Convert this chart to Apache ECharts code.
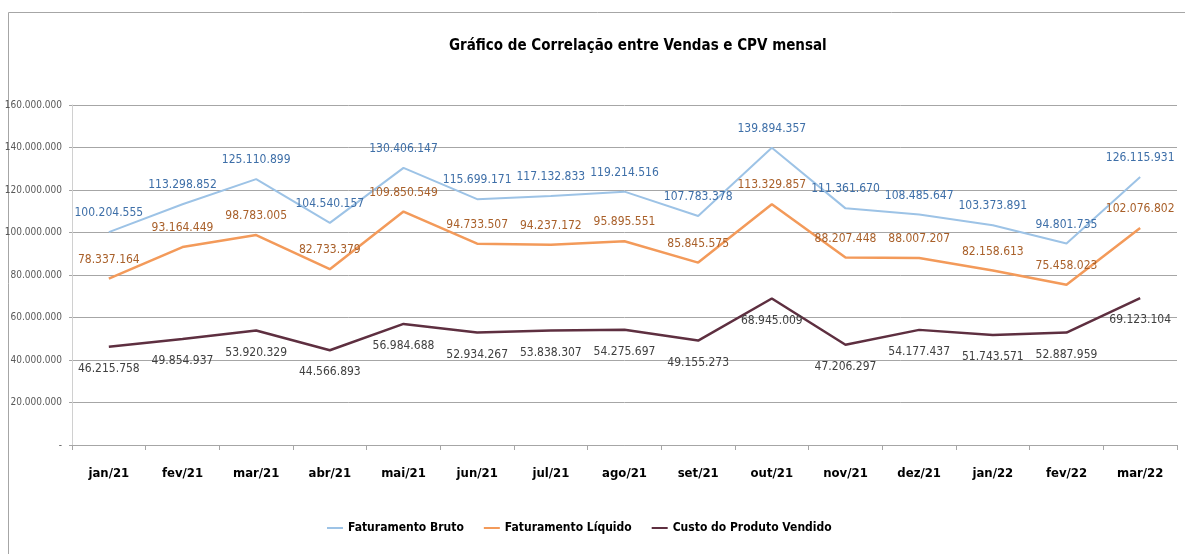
<!DOCTYPE html>
<html>
<head>
<meta charset="utf-8">
<script src="https://cdn.jsdelivr.net/npm/echarts@6/dist/echarts.min.js"></script>
<style>
  html, body { margin: 0; padding: 0; background: #fff; }
  #box { width: 1185px; height: 554px; }
</style>
</head>
<body>
<div id="box"></div>
<script>
// meses
const meses = ["jan/21", "fev/21", "mar/21", "abr/21", "mai/21", "jun/21", "jul/21", "ago/21",
  "set/21", "out/21", "nov/21", "dez/21", "jan/22", "fev/22", "mar/22"];

// faturamento bruto
const fatBruto = [100204555, 113298852, 125110899, 104540157, 130406147, 115699171, 117132833, 119214516,
  107783378, 139894357, 111361670, 108485647, 103373891, 94801735, 126115931];

// faturamento liquido
const fatLiquido = [78337164, 93164449, 98783005, 82733379, 109850549, 94733507, 94237172, 95895551,
  85845575, 113329857, 88207448, 88007207, 82158613, 75458023, 102076802];

// custo do produto vendido
const cpv = [46215758, 49854937, 53920329, 44566893, 56984688, 52934267, 53838307, 54275697,
  49155273, 68945009, 47206297, 54177437, 51743571, 52887959, 69123104];

const fonte = "'DejaVu Sans Condensed', 'Noto Sans', sans-serif";

// 1234567 -> 1.234.567
function ptBR(v) {
  if (v == 0) return "-";
  return String(v).replace(/\B(?=(\d{3})+(?!\d))/g, ".");
}

const myChart = echarts.init(document.getElementById("box"));

const option = {
  backgroundColor: "#fff",
  animation: false,
  textStyle: { fontFamily: fonte },
  // moldura do grafico
  graphic: [
    {
      type: "rect",
      shape: { x: 8.5, y: 12.5, width: 1300, height: 700 },
      style: { fill: "none", stroke: "#a6a6a6", lineWidth: 1 },
      silent: true,
    },
  ],
  title: {
    text: "Gráfico de Correlação entre Vendas e CPV mensal",
    left: 444,
    top: 34,
    textStyle: { fontFamily: fonte, fontSize: 15, fontWeight: "bold", color: "#000" },
  },
  legend: {
    bottom: 15,
    left: 322,
    icon: "rect",
    itemWidth: 16,
    itemHeight: 2,
    itemGap: 20,
    textStyle: { fontFamily: fonte, fontSize: 12, fontWeight: "bold", color: "#000" },
    data: ["Faturamento Bruto", "Faturamento Líquido", "Custo do Produto Vendido"],
  },
  grid: {
    left: 72,
    right: 8,
    top: 105,
    bottom: 109,
    outerBoundsMode: "none",
  },
  xAxis: {
    type: "category",
    data: meses,
    boundaryGap: true,
    axisLine: { lineStyle: { color: "#a6a6a6" } },
    axisTick: { show: true, length: 5, lineStyle: { color: "#a6a6a6" } },
    axisLabel: { margin: 22, fontFamily: fonte, fontSize: 13, fontWeight: "bold", color: "#000" },
  },
  yAxis: {
    type: "value",
    min: 0,
    max: 160000000,
    interval: 20000000,
    axisLine: { show: true, lineStyle: { color: "#d0d0d0" } },
    axisTick: { show: true, length: 3, lineStyle: { color: "#a6a6a6" } },
    axisLabel: { margin: 10, fontFamily: fonte, fontSize: 10, color: "#595959", formatter: ptBR },
    splitLine: { lineStyle: { color: "#a6a6a6" } },
  },
  series: [
    {
      name: "Faturamento Bruto",
      type: "line",
      data: fatBruto,
      symbol: "circle",
      symbolSize: 0,
      color: "#9dc3e6",
      lineStyle: { width: 2 },
      label: {
        show: true,
        position: "top",
        distance: 13,
        fontFamily: fonte,
        fontSize: 12,
        color: "#3e6fa8",
        formatter: (p) => ptBR(p.value),
      },
    },
    {
      name: "Faturamento Líquido",
      type: "line",
      data: fatLiquido,
      symbol: "circle",
      symbolSize: 0,
      color: "#f39a5a",
      lineStyle: { width: 2.5 },
      label: {
        show: true,
        position: "top",
        distance: 13,
        fontFamily: fonte,
        fontSize: 12,
        color: "#a9602a",
        formatter: (p) => ptBR(p.value),
      },
    },
    {
      name: "Custo do Produto Vendido",
      type: "line",
      data: cpv,
      symbol: "circle",
      symbolSize: 0,
      color: "#5e2f40",
      lineStyle: { width: 2.5 },
      label: {
        show: true,
        position: "bottom",
        distance: 16,
        fontFamily: fonte,
        fontSize: 12,
        color: "#404040",
        formatter: (p) => ptBR(p.value),
      },
    },
  ],
};

myChart.setOption(option);
</script>
</body>
</html>
